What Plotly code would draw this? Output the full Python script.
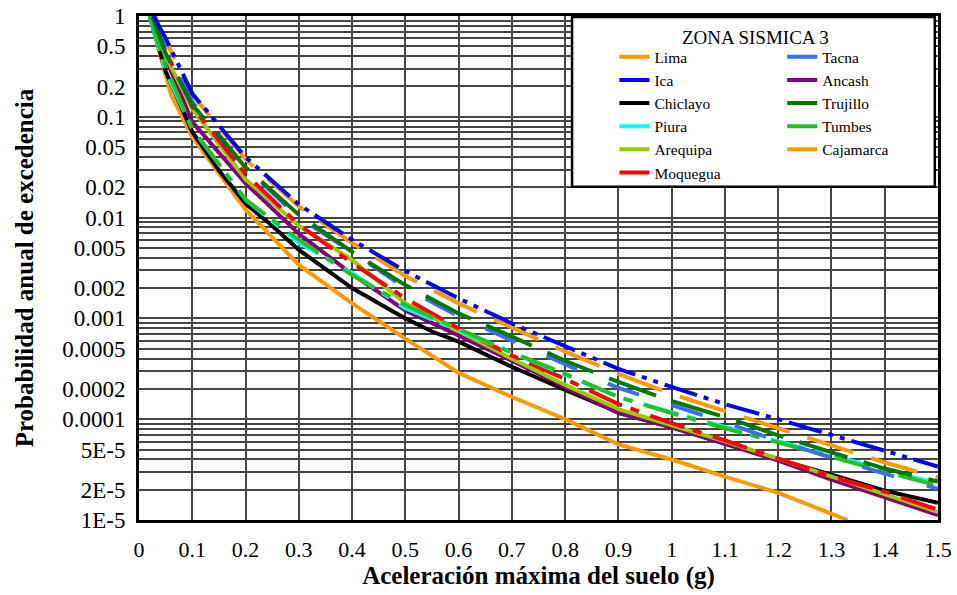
import plotly.graph_objects as go

# ---- data ----
x_lima = [0.02, 0.04, 0.06, 0.1, 0.15, 0.2, 0.3, 0.4, 0.5, 0.6, 0.7, 0.8, 0.9, 1.0, 1.1, 1.2, 1.33]
p_lima = [1, 0.398, 0.166, 0.0631, 0.0275, 0.012, 0.00339, 0.00141, 6.31e-4, 2.88e-4, 1.66e-4,
          1.0e-4, 5.62e-5, 3.98e-5, 2.69e-5, 1.86e-5, 1.0e-5]

x_chiclayo = [0.02, 0.05, 0.1, 0.15, 0.2, 0.25, 0.3, 0.4, 0.5, 0.55, 0.6, 0.7, 0.8, 0.9, 1.0,
              1.1, 1.2, 1.3, 1.4, 1.5]
p_chiclayo = [1, 0.282, 0.0708, 0.0295, 0.0138, 0.00832, 0.00479, 0.002, 0.001, 7.41e-4, 5.89e-4,
              3.31e-4, 1.95e-4, 1.17e-4, 8.32e-5, 5.75e-5, 3.98e-5, 2.82e-5, 1.95e-5, 1.48e-5]

x_ica = [0.027, 0.05, 0.1, 0.2, 0.3, 0.4, 0.5, 0.6, 0.7, 0.8, 0.9, 1.0, 1.1, 1.2, 1.3, 1.4, 1.5]
p_ica = [1, 0.603, 0.170, 0.0398, 0.0135, 0.00603, 0.00295, 0.00158, 8.91e-4, 5.25e-4, 3.16e-4,
         2.09e-4, 1.41e-4, 1.0e-4, 6.92e-5, 4.79e-5, 3.39e-5]

x_cajamarca = [0.027, 0.05, 0.1, 0.2, 0.3, 0.4, 0.5, 0.6, 0.7, 0.8, 0.9, 1.0, 1.1, 1.2, 1.3, 1.4, 1.5]
p_cajamarca = [1, 0.562, 0.166, 0.0380, 0.0129, 0.00562, 0.00263, 0.00141, 8.13e-4, 4.68e-4,
               2.82e-4, 1.78e-4, 1.20e-4, 8.13e-5, 5.50e-5, 3.72e-5, 2.63e-5]

x_trujillo = [0.025, 0.05, 0.1, 0.2, 0.3, 0.4, 0.5, 0.6, 0.7, 0.8, 0.9, 1.0, 1.1, 1.2, 1.3, 1.4, 1.5]
p_trujillo = [1, 0.427, 0.132, 0.0316, 0.0107, 0.00457, 0.00214, 0.00112, 6.61e-4, 3.80e-4,
              2.34e-4, 1.51e-4, 1.05e-4, 6.92e-5, 4.68e-5, 3.24e-5, 2.40e-5]

x_tacna = [0.03, 0.05, 0.1, 0.2, 0.3, 0.4, 0.5, 0.6, 0.7, 0.8, 0.9, 1.0, 1.1, 1.2, 1.3, 1.4, 1.5]
p_tacna = [1, 0.501, 0.141, 0.0316, 0.01, 0.00457, 0.002, 0.00105, 6.03e-4, 3.47e-4, 2.04e-4,
           1.38e-4, 9.33e-5, 6.03e-5, 4.17e-5, 2.88e-5, 2.04e-5]

x_tumbes = [0.02, 0.05, 0.1, 0.2, 0.3, 0.4, 0.5, 0.6, 0.7, 0.8, 0.9, 1.0, 1.1, 1.2, 1.3, 1.4, 1.5]
p_tumbes = [1, 0.316, 0.0759, 0.0151, 0.00603, 0.00269, 0.00135, 7.94e-4, 4.57e-4, 2.82e-4,
            1.66e-4, 1.15e-4, 8.13e-5, 5.89e-5, 4.17e-5, 3.02e-5, 2.19e-5]

x_piura = [0.02, 0.05, 0.1, 0.2, 0.3, 0.4, 0.5, 0.6, 0.7, 0.8, 0.9, 1.0, 1.1, 1.2, 1.3, 1.4, 1.5]
p_piura = [1, 0.282, 0.0759, 0.0151, 0.00562, 0.00282, 0.00126, 7.59e-4, 4.57e-4, 2.75e-4,
           1.66e-4, 1.17e-4, 8.32e-5, 6.03e-5, 4.37e-5, 3.16e-5, 2.29e-5]

x_moquegua = [0.025, 0.05, 0.1, 0.2, 0.3, 0.4, 0.5, 0.6, 0.7, 0.8, 0.9, 1.0, 1.1, 1.2, 1.3, 1.4, 1.5]
p_moquegua = [1, 0.447, 0.126, 0.0269, 0.00851, 0.00355, 0.00158, 7.94e-4, 4.27e-4, 2.51e-4,
              1.41e-4, 9.12e-5, 6.17e-5, 4.07e-5, 2.69e-5, 1.91e-5, 1.26e-5]

x_arequipa = [0.025, 0.05, 0.1, 0.2, 0.3, 0.4, 0.5, 0.6, 0.7, 0.8, 0.9, 1.0, 1.1, 1.2, 1.3, 1.4, 1.5]
p_arequipa = [1, 0.398, 0.120, 0.0240, 0.00832, 0.0038, 0.00141, 7.41e-4, 3.98e-4, 2.19e-4,
              1.26e-4, 8.71e-5, 6.03e-5, 4.07e-5, 2.69e-5, 1.78e-5, 1.20e-5]

x_ancash = [0.025, 0.05, 0.1, 0.2, 0.3, 0.4, 0.5, 0.6, 0.7, 0.8, 0.9, 1.0, 1.1, 1.2, 1.3, 1.4, 1.5]
p_ancash = [1, 0.380, 0.0891, 0.0219, 0.00692, 0.00275, 0.00120, 6.76e-4, 3.80e-4, 2.09e-4,
            1.15e-4, 8.32e-5, 5.75e-5, 3.89e-5, 2.51e-5, 1.66e-5, 1.12e-5]

x_ticks = [0, 0.1, 0.2, 0.3, 0.4, 0.5, 0.6, 0.7, 0.8, 0.9, 1.0, 1.1, 1.2, 1.3, 1.4, 1.5]
x_ticktext = ["0", "0.1", "0.2", "0.3", "0.4", "0.5", "0.6", "0.7", "0.8", "0.9", "1",
              "1.1", "1.2", "1.3", "1.4", "1.5"]
y_ticks = [1, 0.5, 0.2, 0.1, 0.05, 0.02, 0.01, 0.005, 0.002, 0.001, 0.0005, 0.0002, 0.0001,
           5e-5, 2e-5, 1e-5]
y_ticktext = ["1", "0.5", "0.2", "0.1", "0.05", "0.02", "0.01", "0.005", "0.002", "0.001",
              "0.0005", "0.0002", "0.0001", "5E-5", "2E-5", "1E-5"]
y_minor = [m * 10.0 ** e for e in range(-5, 0) for m in range(1, 10)]

SERIF = "Liberation Serif, Times New Roman, serif"

# name, x, y, color, dash, legend, rank within legend
series = [
    ("Lima", x_lima, p_lima, "#FF9900", "solid", "legend", 1),
    ("Chiclayo", x_chiclayo, p_chiclayo, "#000000", "solid", "legend", 3),
    ("Ancash", x_ancash, p_ancash, "#800080", "solid", "legend2", 2),
    ("Arequipa", x_arequipa, p_arequipa, "#99CC00", "solid", "legend", 5),
    ("Moquegua", x_moquegua, p_moquegua, "#FF0000", "36px,9px,9px,12px", "legend", 6),
    ("Piura", x_piura, p_piura, "#00FFFF", "36px,9px,9px,12px", "legend", 4),
    ("Tumbes", x_tumbes, p_tumbes, "#22C322", "36px,9px,9px,12px", "legend2", 4),
    ("Cajamarca", x_cajamarca, p_cajamarca, "#FF9900", "48px,19px", "legend2", 5),
    ("Tacna", x_tacna, p_tacna, "#3A6FF0", "33px,34px", "legend2", 1),
    ("Trujillo", x_trujillo, p_trujillo, "#007A00", "50px,17px", "legend2", 3),
    ("Ica", x_ica, p_ica, "#0000FF", "34px,7px,5px,7px,5px,7px", "legend", 2),
]

fig = go.Figure()
for name, xs, ys, col, dash, leg, rank in series:
    fig.add_trace(go.Scatter(
        x=xs, y=ys, mode="lines", name=name, legend=leg, legendrank=rank,
        line=dict(color=col, width=4, dash=dash),
    ))

legend_common = dict(
    yanchor="top", xanchor="left", bgcolor="rgba(0,0,0,0)", borderwidth=0,
    font=dict(family=SERIF, size=15.5, color="black"), tracegroupgap=0,
)

fig.update_layout(
    width=957, height=595,
    margin=dict(l=139, r=19, t=16, b=75, autoexpand=False),
    paper_bgcolor="white", plot_bgcolor="white",
    font=dict(family=SERIF, color="black"),
    showlegend=True,
    legend=dict(x=0.595, y=0.952, **legend_common),
    legend2=dict(x=0.805, y=0.952, **legend_common),
    shapes=[dict(type="rect", xref="paper", yref="paper", x0=0.542, x1=0.996, y0=0.661, y1=0.998,
                 fillcolor="white", line=dict(color="black", width=2.5), layer="above")],
    annotations=[dict(text="ZONA SISMICA 3", xref="paper", yref="paper", x=0.771, y=0.958,
                      xanchor="center", yanchor="middle", showarrow=False,
                      font=dict(family=SERIF, size=19, color="black"))],
    xaxis=dict(
        range=[0, 1.5], tickmode="array", tickvals=x_ticks, ticktext=x_ticktext,
        showgrid=True, gridcolor="#444444", gridwidth=1.5, automargin=False,
        showline=True, linecolor="black", linewidth=3, mirror=True,
        ticks="", zeroline=False, ticklabelstandoff=8,
        tickfont=dict(family=SERIF, size=22, color="black"),
        title=dict(text="<b>Aceleración máxima del suelo (g)</b>",
                   font=dict(family=SERIF, size=25, color="black"), standoff=4),
    ),
    yaxis=dict(
        type="log", range=[-5, 0], tickmode="array", tickvals=y_ticks, ticktext=y_ticktext,
        showgrid=True, gridcolor="#444444", gridwidth=1.5, automargin=False,
        minor=dict(showgrid=True, tickvals=y_minor, gridcolor="#444444", gridwidth=1.5, ticks=""),
        showline=True, linecolor="black", linewidth=3, mirror=True,
        ticks="", zeroline=False, ticklabelstandoff=6,
        tickfont=dict(family=SERIF, size=23, color="black"),
        title=dict(text="<b>Probabilidad anual de excedencia</b>",
                   font=dict(family=SERIF, size=25, color="black"), standoff=22),
    ),
)

fig.write_html("out.html")
